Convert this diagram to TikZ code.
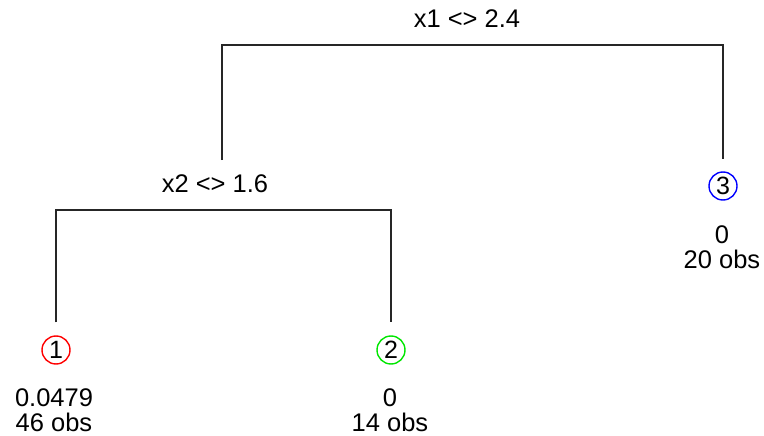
\documentclass[tikz,border=0pt]{standalone}
\usepackage{fontspec}
\setmainfont{Liberation Sans}
\begin{document}
\begin{tikzpicture}[x=1pt,y=-1pt,
  treeline/.style={draw=black!85,line width=1.8pt},
  leafcirc/.style={circle,draw,line width=1.4pt,minimum size=28pt,inner sep=0pt,font=\fontsize{25}{25}\selectfont},
  splitlabel/.style={anchor=base,inner sep=0pt,font=\fontsize{25.5}{25}\selectfont},
  leaftext/.style={anchor=north,inner sep=0pt,align=center,font=\fontsize{25.5}{25}\selectfont}]
\useasboundingbox (0,0) rectangle (764,436);
% split labels
\node[splitlabel] (s1) at (467,28) {x1 <> 2.4};
\node[splitlabel] (s2) at (215,193) {x2 <> 1.6};
% leaves
\node[leafcirc,draw=red]  (l1) at (56,350) {1};
\node[leafcirc,draw={rgb,255:red,0;green,230;blue,0}] (l2) at (391,350) {2};
\node[leafcirc,draw=blue] (l3) at (723,186) {3};
\node[leaftext] (t1) at (54,388) {0.0479\\46 obs};
\node[leaftext] (t2) at (390,388) {0\\14 obs};
\node[leaftext] (t3) at (722,225) {0\\20 obs};
% bar levels and stem top
\coordinate (b1) at (0,45);
\coordinate (b2) at (0,210);
\coordinate (st) at (222,160);
% connectors
\draw[treeline] (st) -- (st |- b1) -- (l3.north |- b1) -- ([yshift=12pt]l3.north);
\draw[treeline] ([yshift=13pt]l1.north) -- (l1.north |- b2) -- (l2.north |- b2) -- ([yshift=13pt]l2.north);
\end{tikzpicture}
\end{document}
